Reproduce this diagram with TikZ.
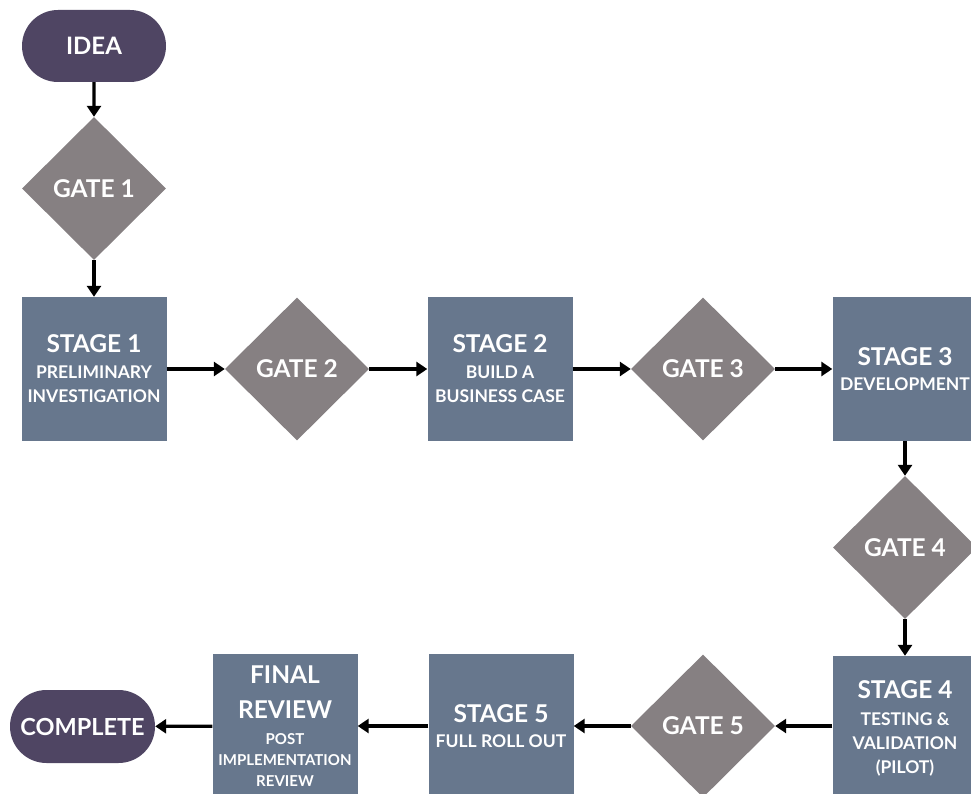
\documentclass[tikz,border=0pt]{standalone}
\usepackage{fontspec}
\setmainfont{Lato}
\usetikzlibrary{shapes.geometric,shapes.misc,arrows.meta}
\definecolor{pillc}{HTML}{4F4563}
\definecolor{stagec}{HTML}{67778D}
\definecolor{gatec}{HTML}{868082}
\tikzset{
  pill/.style={rounded rectangle, fill=pillc, text=white, minimum width=144pt, minimum height=72pt, inner sep=0pt, font=\bfseries\fontsize{24}{28}\selectfont},
  stagebox/.style={rectangle, fill=stagec, text=white, minimum width=145pt, minimum height=144pt, inner sep=0pt, align=center, font=\bfseries\fontsize{24.5}{28}\selectfont},
  gatebox/.style={diamond, fill=gatec, text=white, minimum width=144pt, minimum height=143pt, inner sep=0pt, font=\bfseries\fontsize{24.5}{28}\selectfont},
  arr/.style={line width=3.2pt, -{Triangle[width=14pt,length=11pt]}},
}
\newcommand{\subt}[1]{{\fontsize{17.5}{24}\selectfont #1}}
\newcommand{\subf}[1]{{\fontsize{15}{20}\selectfont #1}}
\begin{document}
\begin{tikzpicture}[x=1pt,y=-1pt]
\useasboundingbox (0,0) rectangle (971,794);
\node[pill] (idea) at (94,46) {IDEA};
\node[gatebox] (g1) at (94,188.5) {GATE 1};
\node[stagebox] (s1) at (94,369) {STAGE 1\\[-2pt]\subt{PRELIMINARY}\\[-4pt]\subt{INVESTIGATION}};
\node[gatebox] (g2) at (297,369) {GATE 2};
\node[stagebox] (s2) at (500,369) {STAGE 2\\[-2pt]\subt{BUILD A}\\[-4pt]\subt{BUSINESS CASE}};
\node[gatebox] (g3) at (703,369) {GATE 3};
\node[stagebox] (s3) at (905,369) {STAGE 3\\[-3pt]\subt{DEVELOPMENT}};
\node[gatebox] (g4) at (905,547.5) {GATE 4};
\node[stagebox] (s4) at (905,728) {STAGE 4\\[-1pt]\subt{TESTING \&}\\[-4pt]\subt{VALIDATION}\\[-4pt]\subt{(PILOT)}};
\node[gatebox] (g5) at (703,726) {GATE 5};
\node[stagebox] (s5) at (501,726) {STAGE 5\\[-3pt]\subt{FULL ROLL OUT}};
\node[stagebox] (fr) at (285,726) {FINAL\\[7pt]REVIEW\\[-2pt]\subf{POST}\\[-7pt]\subf{IMPLEMENTATION}\\[-7pt]\subf{REVIEW}};
\node[pill, minimum width=145pt, minimum height=73pt, font=\bfseries\fontsize{23.5}{28}\selectfont] (done) at (82.5,726.5) {COMPLETE};
\draw[arr] (idea) -- (g1);
\draw[arr] (g1) -- (s1);
\draw[arr] (s1) -- (g2);
\draw[arr] (g2) -- (s2);
\draw[arr] (s2) -- (g3);
\draw[arr] (g3) -- (s3);
\draw[arr] (s3) -- (g4);
\draw[arr] (g4) -- (s4);
\draw[arr] (s4.west |- g5.east) -- (g5.east);
\draw[arr] (g5) -- (s5);
\draw[arr] (s5) -- (fr);
\draw[arr] (fr) -- (done);
\end{tikzpicture}
\end{document}
